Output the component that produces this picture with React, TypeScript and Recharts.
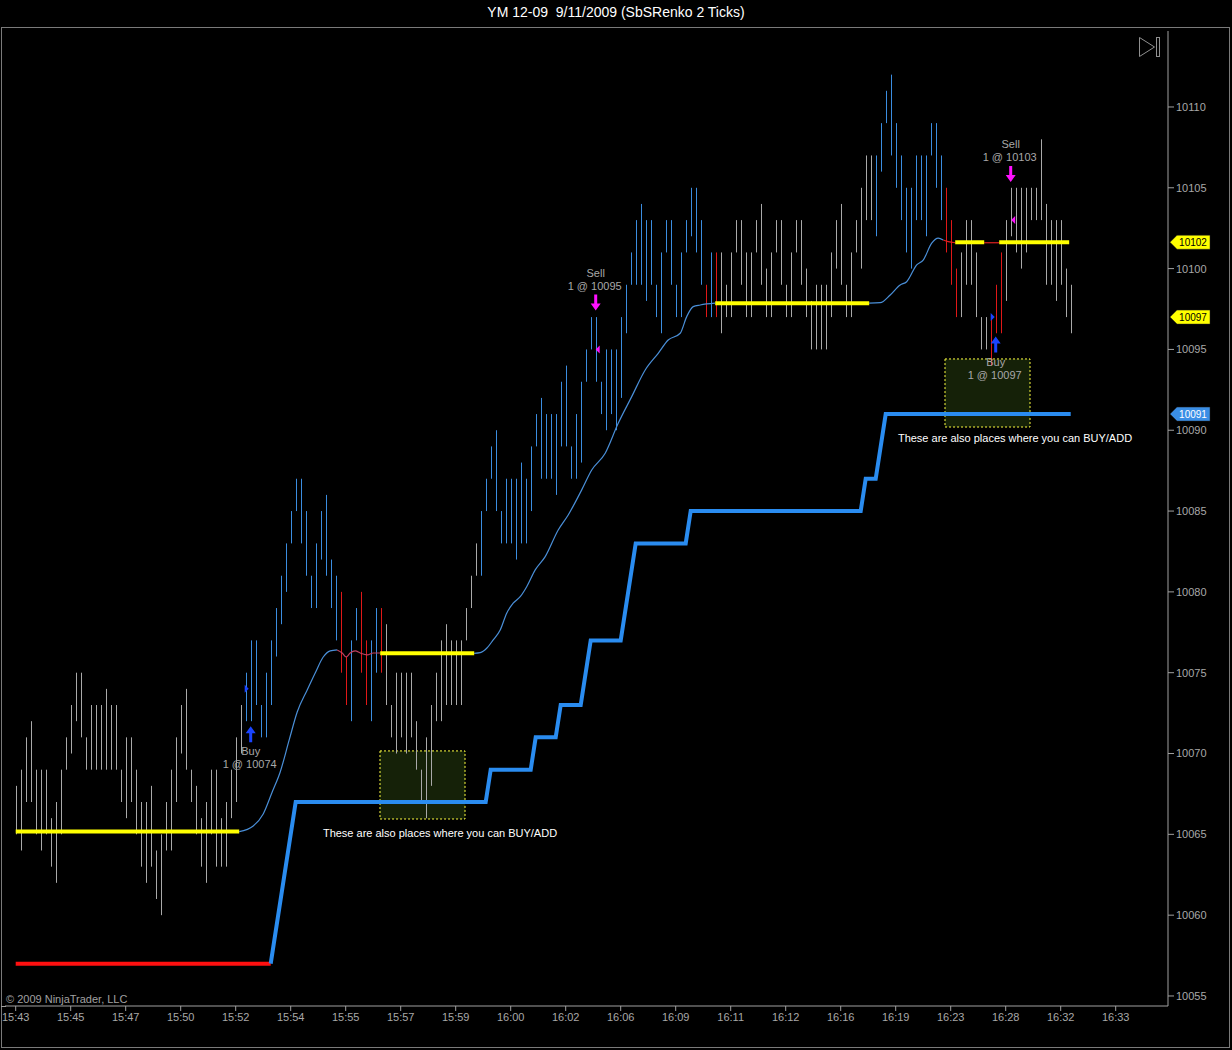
import React from 'react';
import { ComposedChart, Bar, Line, XAxis, YAxis, ReferenceArea, ReferenceDot } from 'recharts';

// renko bricks, one entry per bar
const BAR_LOW = [
  10065, 10064, 10067, 10067, 10065, 10064, 10065, 10063, 10062, 10065,
  10069, 10070, 10072, 10071, 10069, 10069, 10069, 10069, 10069, 10069,
  10069, 10067, 10066, 10067, 10065, 10063, 10062, 10063, 10061, 10060,
  10064, 10064, 10067, 10070, 10069, 10067, 10065, 10063, 10062, 10065,
  10063, 10063, 10063, 10066, 10067, 10070, 10072, 10072, 10073, 10071,
  10071, 10073, 10076, 10078, 10080, 10083, 10085, 10083, 10081, 10079,
  10079, 10082, 10081, 10079, 10077, 10075, 10073, 10072, 10077, 10075,
  10073, 10072, 10075, 10075, 10073, 10071, 10070, 10071, 10070, 10071,
  10069, 10067, 10066, 10068, 10072, 10072, 10073, 10073, 10073, 10073,
  10077, 10079, 10081, 10081, 10085, 10087, 10085, 10083, 10083, 10083,
  10082, 10083, 10083, 10085, 10089, 10087, 10087, 10087, 10086, 10089,
  10089, 10087, 10087, 10088, 10093, 10095, 10093, 10091, 10090, 10091,
  10090, 10092, 10096, 10099, 10099, 10099, 10098, 10099, 10097, 10096,
  10101, 10099, 10097, 10097, 10101, 10102, 10101, 10099, 10097, 10097,
  10097, 10096, 10097, 10097, 10101, 10099, 10097, 10097, 10101, 10099,
  10097, 10097, 10101, 10099, 10097, 10097, 10101, 10099, 10097, 10095,
  10095, 10095, 10095, 10097, 10100, 10099, 10097, 10097, 10101, 10100,
  10103, 10103, 10102, 10106, 10109, 10107, 10105, 10103, 10101, 10100,
  10103, 10103, 10102, 10107, 10105, 10103, 10101, 10099, 10097, 10097,
  10099, 10099, 10097, 10095, 10095, 10094, 10096, 10096, 10098, 10102,
  10101, 10100, 10101, 10103, 10103, 10103, 10099, 10099, 10098, 10099,
  10097, 10096,
];

const BAR_HIGH = [
  10068, 10069, 10071, 10072, 10069, 10069, 10069, 10066, 10067, 10069,
  10071, 10073, 10075, 10075, 10071, 10073, 10073, 10073, 10074, 10073,
  10073, 10069, 10071, 10071, 10069, 10067, 10067, 10068, 10064, 10065,
  10067, 10069, 10071, 10073, 10074, 10069, 10068, 10066, 10067, 10069,
  10069, 10066, 10067, 10069, 10071, 10073, 10075, 10077, 10077, 10073,
  10075, 10077, 10079, 10081, 10083, 10085, 10087, 10087, 10085, 10081,
  10083, 10085, 10086, 10082, 10081, 10080, 10076, 10077, 10079, 10080,
  10077, 10077, 10079, 10079, 10078, 10073, 10075, 10075, 10075, 10075,
  10072, 10069, 10071, 10073, 10075, 10077, 10078, 10077, 10077, 10077,
  10079, 10081, 10083, 10085, 10087, 10089, 10090, 10085, 10087, 10087,
  10087, 10088, 10087, 10089, 10091, 10092, 10091, 10091, 10091, 10093,
  10094, 10089, 10091, 10093, 10095, 10097, 10097, 10093, 10095, 10095,
  10095, 10097, 10099, 10101, 10103, 10104, 10103, 10103, 10099, 10101,
  10103, 10103, 10099, 10101, 10103, 10105, 10105, 10103, 10099, 10101,
  10101, 10101, 10099, 10101, 10103, 10103, 10101, 10101, 10103, 10104,
  10100, 10101, 10103, 10103, 10099, 10101, 10103, 10103, 10100, 10098,
  10099, 10099, 10099, 10101, 10103, 10104, 10099, 10101, 10103, 10105,
  10107, 10107, 10107, 10109, 10111, 10112, 10109, 10107, 10105, 10105,
  10107, 10107, 10107, 10109, 10109, 10107, 10105, 10103, 10100, 10101,
  10103, 10103, 10101, 10097, 10097, 10097, 10099, 10101, 10103, 10105,
  10105, 10105, 10105, 10105, 10105, 10108, 10104, 10103, 10103, 10103,
  10100, 10099,
];

// trend state of each bar run: [first bar, last bar, state]
const STATE_RUNS: Array<[number, number, string]> = [
  [0, 45, 'flat'], [46, 64, 'up'], [65, 66, 'down'], [67, 68, 'up'],
  [69, 70, 'down'], [71, 72, 'up'], [73, 73, 'down'], [74, 92, 'flat'],
  [93, 137, 'up'], [138, 138, 'down'], [139, 139, 'up'], [140, 140, 'down'],
  [141, 171, 'flat'], [172, 185, 'up'], [186, 188, 'down'], [189, 194, 'flat'],
  [195, 197, 'down'], [198, 211, 'flat'],
];

const TIME_TICKS = [0, 11, 22, 33, 44, 55, 66, 77, 88, 99, 110, 121, 132, 143, 154, 165, 176, 187, 198, 209, 220];
const TIME_LABELS = [
  '15:43', '15:45', '15:47', '15:50', '15:52', '15:54', '15:55', '15:57', '15:59', '16:00', '16:02',
  '16:06', '16:09', '16:11', '16:12', '16:16', '16:19', '16:23', '16:28', '16:32', '16:33',
];
const PRICE_TICKS = [10055, 10060, 10065, 10070, 10075, 10080, 10085, 10090, 10095, 10100, 10105, 10110];

// trailing stop, corner points
const STOP_SHORT_BARS = [0, 51];
const STOP_SHORT_VALUES = [10057, 10057];
const STOP_LONG_BARS = [51, 56, 94, 95, 103, 104, 108, 109, 113, 115, 121, 124, 134, 135, 169, 170, 172, 174, 211];
const STOP_LONG_VALUES = [10057, 10067, 10067, 10069, 10069, 10071, 10071, 10073, 10073, 10077, 10077, 10083, 10083, 10085, 10085, 10087, 10087, 10091, 10091];

// adaptive average, sampled along the curve
const AVG_RISE_1_BARS = [44.7, 47.5, 49.5, 51.3, 52.9, 54.7, 56.3, 58.3, 59.9, 61.5, 62.9, 64.3];
const AVG_RISE_1_VALUES = [10065.17, 10065.52, 10066.26, 10067.62, 10068.86, 10070.84, 10072.57, 10073.93, 10074.98, 10075.97, 10076.35, 10076.41];
const AVG_WIGGLE_BARS = [64.3, 65.3, 66.1, 66.9, 67.9, 68.9, 70.3, 71.5, 72.9];
const AVG_WIGGLE_VALUES = [10076.41, 10076.22, 10075.97, 10076.22, 10076.35, 10076.22, 10076.1, 10076.22, 10076.22];
const AVG_RISE_2_BARS = [91.7, 92.9, 94.2, 95.5, 96.9, 98.2, 99.5, 100.9, 102.2, 103.9, 105.9, 108.5, 110.5, 113.2, 115.2, 117.9, 120.5, 123.2, 125.9, 128.5, 130.5, 132.9, 134.2, 135.5, 136.9, 139.9];
const AVG_RISE_2_VALUES = [10076.2, 10076.24, 10076.51, 10077.03, 10077.64, 10078.68, 10079.3, 10079.7, 10080.32, 10081.36, 10082.18, 10083.83, 10084.76, 10086.31, 10087.54, 10088.58, 10090.43, 10092.08, 10093.73, 10094.76, 10095.58, 10096.0, 10097.03, 10097.65, 10097.75, 10097.86];
const AVG_RISE_3_BARS = [170.7, 172.9, 174.9, 176.9, 178.2, 180.2, 181.5, 183.2, 184.5, 185.5];
const AVG_RISE_3_VALUES = [10097.86, 10097.89, 10098.37, 10098.99, 10099.19, 10100.23, 10100.53, 10101.57, 10101.88, 10101.77];
const AVG_FALL_BARS = [185.5, 186.5, 187.9];
const AVG_FALL_VALUES = [10101.77, 10101.67, 10101.6];
const AVG_GAP_BARS = [193.7, 196.7];
const AVG_GAP_VALUES = [10101.6, 10101.6];
// flat stretches: [from bar, to bar, level]
const AVG_FLAT: Array<[number, number, number]> = [
  [0, 44.7, 10065.17], [72.9, 91.7, 10076.2], [139.9, 170.7, 10097.86],
  [187.9, 193.7, 10101.63], [196.7, 210.7, 10101.63],
];

const TRADES = [
  { side: 'buy', bar: 47, price: 10071.2, fill: '1 @ 10074' },
  { side: 'sell', bar: 116, price: 10097.9, fill: '1 @ 10095' },
  { side: 'buy', bar: 196, price: 10095.3, fill: '1 @ 10097' },
  { side: 'sell', bar: 199, price: 10105.85, fill: '1 @ 10103' },
];
const ENTRY_MARKS = [
  { side: 'buy', bar: 46.2, price: 10074 },
  { side: 'sell', bar: 116.4, price: 10095 },
  { side: 'buy', bar: 195.4, price: 10097 },
  { side: 'sell', bar: 199.5, price: 10103 },
];
const ADD_ZONES = [
  { bar1: 72.86, bar2: 89.86, low: 10065.95, high: 10070.16, noteBar: 84.86, notePrice: 10065.1 },
  { bar1: 185.86, bar2: 202.86, low: 10090.2, high: 10094.41, noteBar: 199.86, notePrice: 10089.52 },
];
const PRICE_MARKERS = [
  { price: 10101.63, text: '10102', kind: 'avg' },
  { price: 10097, text: '10097', kind: 'avg' },
  { price: 10091, text: '10091', kind: 'stop' },
];

const X_DOMAIN = [-2.14, 230.46];
const Y_DOMAIN = [10054.38, 10114.7];
const FONT = '"Liberation Sans", Arial, sans-serif';
const GRAY = '#a8a8a8';
const BAR_COLOR: Record<string, string> = { flat: '#a9a9a9', up: '#3b8de0', down: '#e01818' };

const stateOf = (i: number) => {
  const run = STATE_RUNS.find(([a, b]) => i >= a && i <= b);
  return run ? run[2] : 'flat';
};

const bars = BAR_LOW.map((lo, i) => ({ k: i, range: [lo, BAR_HIGH[i]], state: stateOf(i) }));
const pts = (ks: number[], vs: number[]) => ks.map((k, i) => ({ k, v: vs[i] }));

const RenkoStick = (props: any) => {
  const { x, y, width, height, payload } = props;
  if (x == null || y == null) return null;
  const cx = Math.round(x + width / 2) + 0.5;
  const top = Math.min(y, y + height);
  const bottom = Math.max(y, y + height);
  return <line x1={cx} x2={cx} y1={top} y2={bottom} stroke={BAR_COLOR[payload.state]} strokeWidth={1} />;
};

const TradeArrow = ({ cx, cy, side, fill }: any) => {
  const up = side === 'buy';
  const color = up ? '#1a44ff' : '#ff10ff';
  const d = up
    ? `M${cx},${cy - 8} L${cx + 5},${cy - 1} L${cx + 1.5},${cy - 1} L${cx + 1.5},${cy + 8} L${cx - 1.5},${cy + 8} L${cx - 1.5},${cy - 1} L${cx - 5},${cy - 1} Z`
    : `M${cx},${cy + 8} L${cx + 5},${cy + 1} L${cx + 1.5},${cy + 1} L${cx + 1.5},${cy - 8} L${cx - 1.5},${cy - 8} L${cx - 1.5},${cy + 1} L${cx - 5},${cy + 1} Z`;
  const t1 = up ? cy + 17 : cy - 30;
  const t2 = up ? cy + 30 : cy - 17;
  return (
    <g>
      <path d={d} fill={color} />
      <text x={cx} y={t1} textAnchor="middle" dominantBaseline="central" fill={GRAY} fontSize={11} fontFamily={FONT}>
        {up ? 'Buy' : 'Sell'}
      </text>
      <text x={cx - 1} y={t2} textAnchor="middle" dominantBaseline="central" fill={GRAY} fontSize={11} fontFamily={FONT}>
        {fill}
      </text>
    </g>
  );
};

const EntryMark = ({ cx, cy, side }: any) => {
  const d = side === 'buy'
    ? `M${cx - 2},${cy - 4} L${cx + 2},${cy} L${cx - 2},${cy + 4} Z`
    : `M${cx + 2},${cy - 4} L${cx - 2},${cy} L${cx + 2},${cy + 4} Z`;
  return <path d={d} fill={side === 'buy' ? '#1a44ff' : '#ff10ff'} />;
};

const ZoneNote = ({ cx, cy }: any) => (
  <text x={cx} y={cy} textAnchor="middle" dominantBaseline="central" fill="#ffffff" fontSize={11} fontFamily={FONT}>
    These are also places where you can BUY/ADD
  </text>
);

const PriceMarker = ({ cx, cy, text, kind }: any) => {
  const bg = kind === 'stop' ? '#3a8ee6' : '#ffff00';
  const fg = kind === 'stop' ? '#ffffff' : '#000000';
  const x0 = cx + 2;
  return (
    <g>
      <path d={`M${x0},${cy} L${x0 + 7},${cy - 7} L${x0 + 40},${cy - 7} L${x0 + 40},${cy + 7} L${x0 + 7},${cy + 7} Z`} fill={bg} stroke="#202020" strokeWidth={0.5} />
      <text x={x0 + 23} y={cy} textAnchor="middle" dominantBaseline="central" fill={fg} fontSize={10} fontFamily={FONT}>
        {text}
      </text>
    </g>
  );
};

export default function App() {
  return (
    <div style={{ position: 'absolute', left: 0, top: 0, width: 1232, height: 1050, background: '#000', overflow: 'hidden' }}>
      <div
        style={{
          position: 'absolute', left: 0, top: 3, width: 1232, textAlign: 'center', color: '#ffffff',
          fontFamily: FONT, fontSize: 14, whiteSpace: 'pre', lineHeight: '18px',
        }}
      >
        {'YM 12-09  9/11/2009 (SbSRenko 2 Ticks)'}
      </div>
      <div style={{ position: 'absolute', left: 0, top: 0 }}>
        <ComposedChart width={1232} height={1050} data={bars} margin={{ top: 31, right: 0, bottom: 0, left: 5 }}>
          <XAxis
            dataKey="k"
            type="number"
            domain={X_DOMAIN}
            allowDataOverflow
            ticks={TIME_TICKS}
            tickFormatter={(v: number) => TIME_LABELS[TIME_TICKS.indexOf(v)] ?? ''}
            interval={0}
            height={44}
            tickSize={5}
            axisLine={{ stroke: '#a0a0a0' }}
            tickLine={{ stroke: '#a0a0a0' }}
            tick={{ fill: GRAY, fontSize: 11, fontFamily: FONT }}
          />
          <YAxis
            orientation="right"
            type="number"
            domain={Y_DOMAIN}
            allowDataOverflow
            ticks={PRICE_TICKS}
            interval={0}
            width={64}
            tickSize={6}
            axisLine={{ stroke: '#a0a0a0' }}
            tickLine={{ stroke: '#a0a0a0' }}
            tick={{ fill: GRAY, fontSize: 11, fontFamily: FONT, textAnchor: 'start' }}
          />
          <Bar dataKey="range" barSize={1} shape={<RenkoStick />} isAnimationActive={false} />

          <Line data={pts(STOP_SHORT_BARS, STOP_SHORT_VALUES)} dataKey="v" type="linear" stroke="#ff1010" strokeWidth={4} dot={false} isAnimationActive={false} />
          <Line data={pts(STOP_LONG_BARS, STOP_LONG_VALUES)} dataKey="v" type="linear" stroke="#2a8cf0" strokeWidth={4} dot={false} isAnimationActive={false} />

          <Line data={pts(AVG_RISE_1_BARS, AVG_RISE_1_VALUES)} dataKey="v" type="monotone" stroke="#4a8fd8" strokeWidth={1.2} dot={false} isAnimationActive={false} />
          <Line data={pts(AVG_WIGGLE_BARS, AVG_WIGGLE_VALUES)} dataKey="v" type="monotone" stroke="#c04060" strokeWidth={1.2} dot={false} isAnimationActive={false} />
          <Line data={pts(AVG_RISE_2_BARS, AVG_RISE_2_VALUES)} dataKey="v" type="monotone" stroke="#4a8fd8" strokeWidth={1.2} dot={false} isAnimationActive={false} />
          <Line data={pts(AVG_RISE_3_BARS, AVG_RISE_3_VALUES)} dataKey="v" type="monotone" stroke="#4a8fd8" strokeWidth={1.2} dot={false} isAnimationActive={false} />
          <Line data={pts(AVG_FALL_BARS, AVG_FALL_VALUES)} dataKey="v" type="monotone" stroke="#e02020" strokeWidth={1.2} dot={false} isAnimationActive={false} />
          <Line data={pts(AVG_GAP_BARS, AVG_GAP_VALUES)} dataKey="v" type="linear" stroke="#e02020" strokeWidth={1.2} dot={false} isAnimationActive={false} />
          {AVG_FLAT.map(([a, b, lv], i) => (
            <Line key={`flat-${i}`} data={pts([a, b], [lv, lv])} dataKey="v" type="linear" stroke="#ffff00" strokeWidth={4} dot={false} isAnimationActive={false} />
          ))}

          {ADD_ZONES.map((z, i) => (
            <ReferenceArea
              key={`zone-${i}`}
              x1={z.bar1}
              x2={z.bar2}
              y1={z.low}
              y2={z.high}
              fill="#2e4a12"
              fillOpacity={0.45}
              stroke="#ffff40"
              strokeDasharray="2 2"
              strokeWidth={1}
              ifOverflow="visible"
            />
          ))}
          {ADD_ZONES.map((z, i) => (
            <ReferenceDot key={`note-${i}`} x={z.noteBar} y={z.notePrice} r={0} ifOverflow="visible" shape={(p: any) => <ZoneNote {...p} />} />
          ))}
          {ENTRY_MARKS.map((m, i) => (
            <ReferenceDot key={`entry-${i}`} x={m.bar} y={m.price} r={0} ifOverflow="visible" shape={(p: any) => <EntryMark {...p} side={m.side} />} />
          ))}
          {TRADES.map((t, i) => (
            <ReferenceDot key={`trade-${i}`} x={t.bar} y={t.price} r={0} ifOverflow="visible" shape={(p: any) => <TradeArrow {...p} side={t.side} fill={t.fill} />} />
          ))}
          {PRICE_MARKERS.map((m, i) => (
            <ReferenceDot key={`pm-${i}`} x={X_DOMAIN[1]} y={m.price} r={0} ifOverflow="visible" shape={(p: any) => <PriceMarker {...p} text={m.text} kind={m.kind} />} />
          ))}
        </ComposedChart>
      </div>
      <svg width={1232} height={1050} style={{ position: 'absolute', left: 0, top: 0, pointerEvents: 'none' }}>
        <rect x={1.5} y={27.5} width={1228} height={1020} fill="none" stroke="#7a7a7a" strokeWidth={1} />
        <line x1={1} x2={6} y1={1006.5} y2={1006.5} stroke="#a0a0a0" />
        <path d="M1139.5,37.5 L1154.5,47 L1139.5,56.5 Z" fill="none" stroke="#909090" strokeWidth={1} />
        <rect x={1156.5} y={37.5} width={3} height={19} fill="none" stroke="#909090" strokeWidth={1} />
        <text x={6} y={1003} fill="#a0a0a0" fontSize={11} fontFamily={FONT}>
          © 2009 NinjaTrader, LLC
        </text>
      </svg>
    </div>
  );
}
